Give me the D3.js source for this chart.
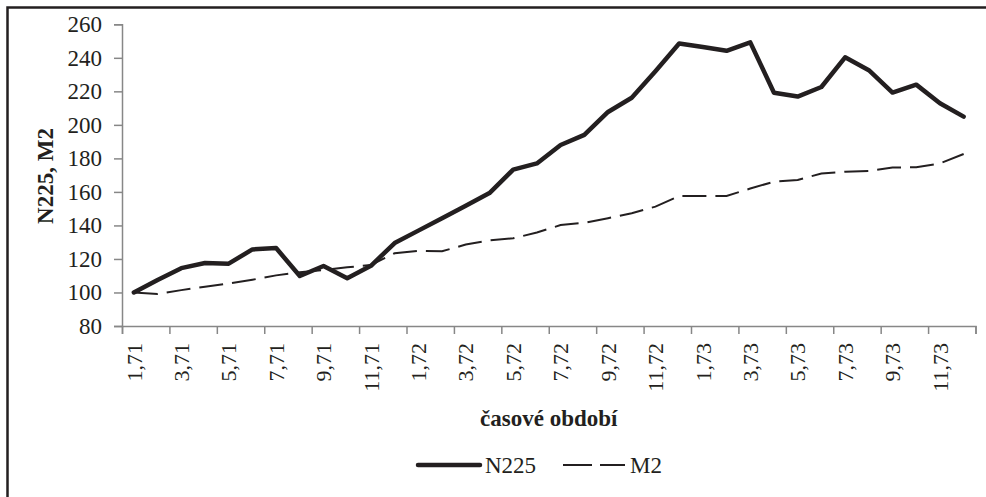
<!DOCTYPE html>
<html>
<head>
<meta charset="UTF-8">
<script src="https://d3js.org/d3.v7.min.js"></script>
<style>
    body { margin: 0; background: #fff; }
    text { font-family: "Liberation Serif", "Times New Roman", serif; fill: #231f20; }
</style>
</head>
<body>
<svg></svg>
<script>
    // months 1,71 .. 12,73
    let periods = [];
    ["71", "72", "73"].forEach(y => { for (let m = 1; m <= 12; m++) periods.push(m + "," + y); });

    let n225 = [100, 107.5, 114.5, 117.6, 117.2, 125.7, 126.5, 109.8, 115.8, 108.5, 115.9, 129.5,
        136.9, 144.3, 151.8, 159.3, 173.3, 177, 188, 194, 207.7, 216.2, 232, 248.5,
        246.4, 244.2, 249.2, 219.2, 216.9, 222.6, 240.3, 232.6, 219.3, 224, 212.9, 204.9];
    let m2 = [100, 99.1, 101.4, 103.4, 105.3, 107.6, 110.2, 112, 113.4, 115, 116.4, 123.4,
        124.9, 124.6, 128.6, 131.1, 132.3, 135.8, 140.2, 141.6, 144.3, 147.3, 151.2, 157.6,
        157.6, 157.6, 162, 166.1, 167.1, 171, 172, 172.5, 174.6, 174.7, 177, 182.6];
    let yTicks = [80, 100, 120, 140, 160, 180, 200, 220, 240, 260];

    let width = 986, height = 497;
    let svg = d3.select("svg").attr("width", width).attr("height", height);

    // outer frame
    svg.append("rect")
        .attr("x", 7.5).attr("y", 7.5)
        .attr("width", 1000).attr("height", 1000)
        .attr("fill", "none").attr("stroke", "#231f20").attr("stroke-width", 2.5);

    let plotLeft = 122, plotRight = 975.5, plotTop = 24.3, plotBottom = 326;

    let x = d3.scaleBand().domain(periods).range([plotLeft, plotRight]);
    let xIdx = d3.scaleLinear().domain([0, periods.length]).range([plotLeft, plotRight]);
    let y = d3.scaleLinear().domain([80, 260]).range([plotBottom, plotTop]);

    // y axis
    let yAxis = svg.append("g")
        .attr("transform", "translate(" + plotLeft + ",0)")
        .call(d3.axisLeft(y).tickValues(yTicks).tickSize(8).tickPadding(12));
    yAxis.selectAll("path, line").attr("stroke", "#878787").attr("stroke-width", 1.5);
    yAxis.selectAll("text").style("font-size", "23px").attr("fill", "#231f20")
        .style("font-family", "Liberation Serif");

    // x axis: tick marks between categories, every second
    let xAxis = svg.append("g")
        .attr("transform", "translate(0," + plotBottom + ")")
        .call(d3.axisBottom(xIdx).tickValues(d3.range(0, periods.length + 1, 2)).tickSize(8).tickFormat(""));
    xAxis.selectAll("path, line").attr("stroke", "#878787").attr("stroke-width", 1.5);

    svg.append("g")
        .selectAll("text")
        .data(periods.filter((d, i) => i % 2 == 0))
        .enter()
        .append("text")
        .attr("transform", d => "translate(" + (x(d) + x.bandwidth() / 2) + "," + (plotBottom + 17) + ") rotate(-90)")
        .attr("text-anchor", "end")
        .attr("dy", "0.35em")
        .style("font-size", "22px")
        .text(d => d);

    // lines
    let line = data => d3.line()
        .x((d, i) => x(periods[i]) + x.bandwidth() / 2)
        .y(d => y(d))(data);

    svg.append("path")
        .attr("d", line(m2))
        .attr("fill", "none")
        .attr("stroke", "#231f20")
        .attr("stroke-width", 2)
        .attr("stroke-dasharray", "24,9");

    svg.append("path")
        .attr("d", line(n225))
        .attr("fill", "none")
        .attr("stroke", "#231f20")
        .attr("stroke-width", 4.5)
        .attr("stroke-linejoin", "round")
        .attr("stroke-linecap", "round");

    // axis titles
    svg.append("text")
        .attr("x", (plotLeft + plotRight) / 2).attr("y", 418)
        .attr("text-anchor", "middle")
        .attr("dy", "0.35em")
        .style("font-size", "23px").style("font-weight", "bold")
        .text("časové období");

    svg.append("text")
        .attr("transform", "translate(45,176) rotate(-90)")
        .attr("text-anchor", "middle")
        .attr("dy", "0.35em")
        .style("font-size", "23px").style("font-weight", "bold")
        .text("N225, M2");

    // legend
    let legend = svg.append("g");
    legend.append("line")
        .attr("x1", 418).attr("x2", 480).attr("y1", 465).attr("y2", 465)
        .attr("stroke", "#231f20").attr("stroke-width", 4.5).attr("stroke-linecap", "round");
    legend.append("text")
        .attr("x", 485).attr("y", 465).attr("dy", "0.35em")
        .style("font-size", "23px").text("N225");
    legend.append("line")
        .attr("x1", 563).attr("x2", 625).attr("y1", 465).attr("y2", 465)
        .attr("stroke", "#231f20").attr("stroke-width", 2).attr("stroke-dasharray", "29,8");
    legend.append("text")
        .attr("x", 630).attr("y", 465).attr("dy", "0.35em")
        .style("font-size", "23px").text("M2");
</script>
</body>
</html>
